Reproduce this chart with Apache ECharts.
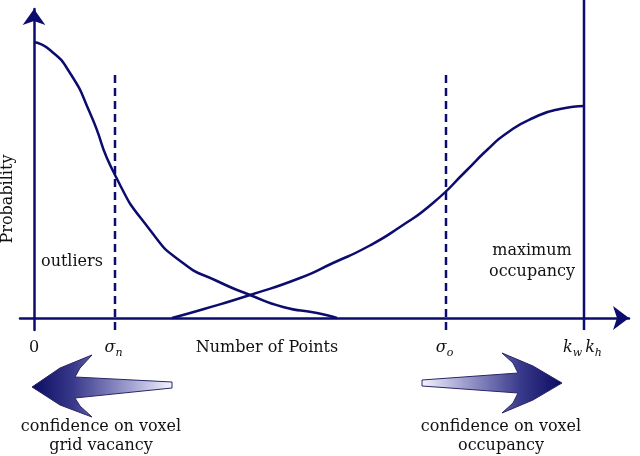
<!DOCTYPE html>
<html>
<head>
<meta charset="utf-8">
<script src="https://cdn.jsdelivr.net/npm/echarts@6/dist/echarts.min.js"></script>
<style>html,body{margin:0;padding:0;background:#fff}#c{width:640px;height:456px}</style>
</head>
<body>
<div id="c"></div>
<script>
// ---- data (schematic units) ----
var decX = [0, 16, 36, 56, 81, 116, 149, 183, 216, 249, 283, 303];
var decY = [276, 268, 245, 205, 143, 88, 55, 37, 23, 11, 5, 0];
var incX = [138, 170, 216, 266, 299, 333, 366, 399, 433, 453, 473, 499, 526, 550];
var incY = [0, 9, 23, 40, 55, 71, 91, 115, 148, 168, 185, 200, 209, 212];
var sigmaN = 81, sigmaO = 412, kwkh = 550;
var dashTop = 243, lineBottom = -12, lineTop = 318;
var tickValues = [0, 81, 233, 412, 550];
var tickNames = ['0', 'σ_n', 'Number of Points', 'σ_o', 'k_w k_h'];

var NAVY = '#0c0c6e';
var FONT = '"DejaVu Serif", serif';

function toRich(s) {
  if (s.indexOf('_') < 0) return s;
  return s.split(' ').map(function (p) {
    var m = p.split('_');
    return '{i|' + m[0] + '}{s|' + m[1] + '}';
  }).join('');
}
function pairs(xs, ys) { return xs.map(function (x, i) { return [x, ys[i]]; }); }

var chart = echarts.init(document.getElementById('c'));
var lineBase = { type: 'line', symbol: 'none', silent: true, animation: false };

chart.setOption({
  animation: false,
  grid: { left: 20, right: 11, top: 9, bottom: 126 },
  xAxis: {
    type: 'value', min: -14, max: 595,
    splitLine: { show: false },
    axisTick: { show: false },
    axisLine: { show: true, onZero: true, symbol: ['none', 'arrow'], symbolSize: [18, 16],
      lineStyle: { color: NAVY, width: 2.5 } },
    axisLabel: {
      customValues: tickValues,
      margin: 10,
      color: '#111', fontFamily: FONT, fontSize: 16,
      formatter: function (v) {
        var i = tickValues.indexOf(v);
        return i < 0 ? '' : toRich(tickNames[i]);
      },
      rich: {
        i: { fontFamily: FONT, fontSize: 16, fontStyle: 'italic', color: '#111', verticalAlign: 'top', lineHeight: 16 },
        s: { fontFamily: FONT, fontSize: 11, fontStyle: 'italic', color: '#111', verticalAlign: 'bottom', padding: [8, 3, 0, 0] }
      }
    }
  },
  yAxis: {
    type: 'value', min: -12, max: 309,
    splitLine: { show: false },
    axisTick: { show: false },
    axisLabel: { show: false },
    axisLine: { show: true, onZero: true, symbol: ['none', 'arrow'], symbolSize: [17, 16],
      lineStyle: { color: NAVY, width: 2.5 } }
  },
  series: [
    Object.assign({}, lineBase, { data: pairs(decX, decY), smooth: 0.6,
      lineStyle: { color: NAVY, width: 2.5 } }),
    Object.assign({}, lineBase, { data: pairs(incX, incY), smooth: 0.6,
      lineStyle: { color: NAVY, width: 2.5 } }),
    Object.assign({}, lineBase, { data: [[sigmaN, dashTop], [sigmaN, lineBottom]],
      lineStyle: { color: NAVY, width: 2.5, type: [8, 5] } }),
    Object.assign({}, lineBase, { data: [[sigmaO, dashTop], [sigmaO, lineBottom]],
      lineStyle: { color: NAVY, width: 2.5, type: [8, 5] } }),
    Object.assign({}, lineBase, { data: [[kwkh, lineBottom], [kwkh, lineTop]], clip: false,
      lineStyle: { color: NAVY, width: 2.5 } })
  ],
  graphic: [
    { type: 'text', x: 8, y: 199, rotation: Math.PI / 2,
      style: { text: 'Probability', font: '16px ' + FONT, fill: '#111', align: 'center', verticalAlign: 'middle', textAlign: 'center', textVerticalAlign: 'middle' } },
    { type: 'text', x: 41, y: 262,
      style: { text: 'outliers', font: '16px ' + FONT, fill: '#111', align: 'left', verticalAlign: 'middle', textAlign: 'left', textVerticalAlign: 'middle' } },
    { type: 'text', x: 532, y: 261,
      style: { text: 'maximum\noccupancy', font: '16px ' + FONT, lineHeight: 21, fill: '#111', align: 'center', verticalAlign: 'middle', textAlign: 'center', textVerticalAlign: 'middle' } },
    { type: 'text', x: 101, y: 436,
      style: { text: 'confidence on voxel\ngrid vacancy', font: '16px ' + FONT, lineHeight: 19, fill: '#111', align: 'center', verticalAlign: 'middle', textAlign: 'center', textVerticalAlign: 'middle' } },
    { type: 'text', x: 501, y: 436,
      style: { text: 'confidence on voxel\noccupancy', font: '16px ' + FONT, lineHeight: 19, fill: '#111', align: 'center', verticalAlign: 'middle', textAlign: 'center', textVerticalAlign: 'middle' } },
    { type: 'polygon', z: 10,
      shape: { points: [[32, 387], [60, 368], [92, 355], [80, 368], [75, 377], [172, 382], [172, 388], [75, 398], [80, 406], [92, 417], [60, 405]] },
      style: { fill: new echarts.graphic.LinearGradient(0, 0, 1, 0, [
        { offset: 0, color: '#0a0a60' }, { offset: 0.3, color: '#3a3a8c' }, { offset: 0.7, color: '#a0a0d0' }, { offset: 1, color: '#f4f4ff' }]),
        stroke: '#2b2466', lineWidth: 1 } },
    { type: 'polygon', z: 10,
      shape: { points: [[422, 380], [518, 373], [513, 363], [502, 353], [533, 366], [562, 383], [533, 400], [502, 413], [513, 403], [518, 393], [422, 386]] },
      style: { fill: new echarts.graphic.LinearGradient(0, 0, 1, 0, [
        { offset: 0, color: '#f4f4ff' }, { offset: 0.3, color: '#a0a0d0' }, { offset: 0.7, color: '#3a3a8c' }, { offset: 1, color: '#0a0a60' }]),
        stroke: '#2b2466', lineWidth: 1 } }
  ]
});
</script>
</body>
</html>
